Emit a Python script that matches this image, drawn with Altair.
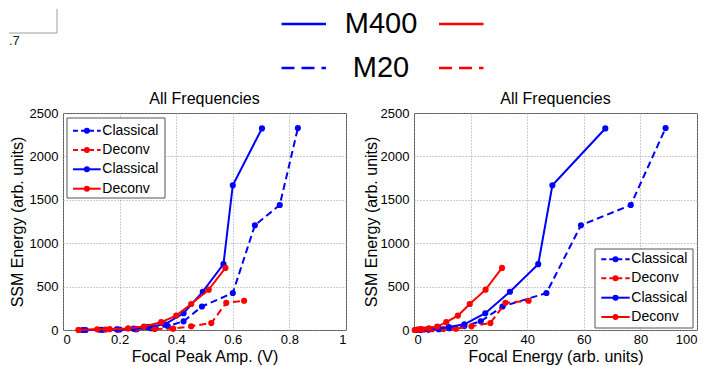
import altair as alt
import pandas as pd

# ---------------- data ----------------
# M20 / Classical (blue dashed)
m20_cls_amp = [0.08, 0.14, 0.20, 0.26, 0.31, 0.37, 0.426, 0.491, 0.600, 0.678, 0.766, 0.830]
m20_cls_energy = [0.8, 2.5, 5.2, 8.8, 12.5, 17.8, 23.6, 31.3, 46.8, 59.0, 76.6, 88.9]
m20_cls_ssm = [0, 2, 5, 10, 20, 45, 100, 271, 426, 1207, 1440, 2326]

# M20 / Deconv (red dashed)
m20_dec_amp = [0.055, 0.150, 0.192, 0.255, 0.324, 0.389, 0.453, 0.524, 0.577, 0.640]
m20_dec_energy = [0.3, 2.2, 3.6, 6.4, 10.3, 14.8, 20.3, 27.0, 32.3, 40.5]
m20_dec_ssm = [0, 5, 5, 10, 12, 15, 43, 81, 313, 337]

# M400 / Classical (blue solid)
m400_cls_amp = [0.07, 0.13, 0.19, 0.25, 0.30, 0.36, 0.426, 0.494, 0.567, 0.600, 0.703]
m400_cls_energy = [0.7, 2.3, 4.9, 8.6, 12.3, 17.8, 25.2, 33.9, 43.9, 48.9, 67.6]
m400_cls_ssm = [0, 3, 8, 15, 35, 65, 193, 441, 758, 1668, 2322]

# M400 / Deconv (red solid)
m400_dec_amp = [0.055, 0.121, 0.165, 0.230, 0.286, 0.347, 0.400, 0.453, 0.515, 0.574]
m400_dec_energy = [0.3, 1.4, 2.6, 5.2, 8.2, 11.4, 15.5, 19.7, 25.3, 31.1]
m400_dec_ssm = [0, 8, 10, 18, 40, 90, 166, 300, 465, 715]

legend_labels = ["Classical", "Deconv", "Classical", "Deconv"]
top_legend_labels = ["M400", "M20"]
panel_title = "All Frequencies"
amp_ticks = [0, 0.2, 0.4, 0.6, 0.8, 1]
energy_ticks = [0, 20, 40, 60, 80, 100]
ssm_ticks = [0, 500, 1000, 1500, 2000, 2500]

BLUE = "#0000ff"
RED = "#ff0000"
FONT = "Liberation Sans"
DASH = [7, 4]

series = [
    ("M20 Classical", m20_cls_amp, m20_cls_energy, m20_cls_ssm, BLUE, True),
    ("M20 Deconv", m20_dec_amp, m20_dec_energy, m20_dec_ssm, RED, True),
    ("M400 Classical", m400_cls_amp, m400_cls_energy, m400_cls_ssm, BLUE, False),
    ("M400 Deconv", m400_dec_amp, m400_dec_energy, m400_dec_ssm, RED, False),
]

W, H = 283, 217
dummy = pd.DataFrame({"d": [0]})


def enc_x(domain, ticks, title, fmt):
    return alt.X(
        "x:Q",
        scale=alt.Scale(domain=domain, nice=False, zero=False),
        axis=alt.Axis(
            values=ticks, format=fmt, title=title, labelPadding=3,
            titleY=31.5, titleBaseline="alphabetic",
        ),
    )


def enc_y(title_x):
    return alt.Y(
        "ssm:Q",
        scale=alt.Scale(domain=[0, 2500], nice=False),
        axis=alt.Axis(
            values=ssm_ticks, format="d", title="SSM Energy (arb. units)",
            labelPadding=5, titleX=title_x, titleAngle=270,
            titleBaseline="alphabetic", titleAlign="center",
        ),
    )


def legend_layers(bx0, bx1, by0, by1, row_y, lx0, lx1, tx):
    layers = [
        alt.Chart(dummy).mark_rect(fill="white", stroke="#555", strokeWidth=1).encode(
            x=alt.value(bx0), x2=alt.value(bx1), y=alt.value(by0), y2=alt.value(by1)
        )
    ]
    for i, (name, _a, _e, _s, col, dashed) in enumerate(series):
        y = row_y[i]
        rule_kw = dict(color=col, strokeWidth=2)
        if dashed:
            rule_kw["strokeDash"] = [5, 3]
        layers.append(
            alt.Chart(dummy).mark_rule(**rule_kw).encode(
                x=alt.value(lx0), x2=alt.value(lx1), y=alt.value(y)
            )
        )
        layers.append(
            alt.Chart(dummy).mark_circle(color=col, size=36, opacity=1).encode(
                x=alt.value((lx0 + lx1) / 2), y=alt.value(y)
            )
        )
        layers.append(
            alt.Chart(dummy).mark_text(
                align="left", baseline="middle", fontSize=14, font=FONT, color="black"
            ).encode(x=alt.value(tx), y=alt.value(y), text=alt.value(legend_labels[i]))
        )
    return layers


def panel(kind, domain, ticks, xtitle, fmt, title_x, legend_geom, extra=None):
    layers = []
    for name, amp, energy, ssm, col, dashed in series:
        xs = amp if kind == "amp" else energy
        df = pd.DataFrame({"x": xs, "ssm": ssm})
        base = alt.Chart(df).encode(x=enc_x(domain, ticks, xtitle, fmt), y=enc_y(title_x))
        line_kw = dict(color=col, strokeWidth=2)
        if dashed:
            line_kw["strokeDash"] = DASH
        layers.append(base.mark_line(**line_kw))
        layers.append(base.mark_circle(color=col, size=38, opacity=1))
    layers += legend_layers(*legend_geom)
    # panel title drawn as text so it sits just above the plot area
    layers.append(
        alt.Chart(dummy).mark_text(
            align="center", baseline="alphabetic", fontSize=16, font=FONT, color="black"
        ).encode(x=alt.value(W / 2), y=alt.value(-9.5), text=alt.value(panel_title))
    )
    if extra:
        layers += extra
    return alt.layer(*layers).properties(width=W, height=H)


# ---- figure-level legend (top) and stray axis fragment, relative to left panel ----
top = []
top_rows = [-89, -45]
for r, lab in enumerate(top_legend_labels):
    dashed = r == 1
    for col, (x0, x1) in ((BLUE, (218.5, 263)), (RED, (376, 420.5))):
        kw = dict(color=col, strokeWidth=2.7)
        if dashed:
            kw["strokeDash"] = [13, 7]
        top.append(
            alt.Chart(dummy).mark_rule(**kw).encode(
                x=alt.value(x0), x2=alt.value(x1), y=alt.value(top_rows[r])
            )
        )
    top.append(
        alt.Chart(dummy).mark_text(
            align="center", baseline="middle", fontSize=29, font=FONT, color="black"
        ).encode(x=alt.value(318), y=alt.value(top_rows[r]), text=alt.value(lab))
    )

# stray fragment of another axes in the top-left corner
top.append(alt.Chart(dummy).mark_rect(fill="white").encode(
    x=alt.value(-54), x2=alt.value(-6), y=alt.value(-104), y2=alt.value(-80)))
top.append(alt.Chart(dummy).mark_rule(color="#a0a0a0", strokeWidth=1).encode(
    x=alt.value(-6), y=alt.value(-104), y2=alt.value(-80)))
top.append(alt.Chart(dummy).mark_rule(color="#a0a0a0", strokeWidth=1).encode(
    x=alt.value(-54), x2=alt.value(-6), y=alt.value(-80)))
top.append(alt.Chart(dummy).mark_text(
    align="left", baseline="middle", fontSize=13, font=FONT, color="#222"
).encode(x=alt.value(-54), y=alt.value(-72), text=alt.value(".7")))

left = panel(
    "amp", [0, 1], amp_ticks, "Focal Peak Amp. (V)", ".1~f", -41,
    (4, 102, 5, 85, [17.7, 37, 56.3, 75.7], 10, 37.7, 39.3),
    extra=top,
)
right = panel(
    "energy", [0, 100], energy_ticks, "Focal Energy (arb. units)", "d", -38,
    (181, 279, 136, 215, [146.3, 165.3, 184.7, 204], 187.3, 215.7, 217.3),
)

chart = (
    alt.hconcat(left, right, spacing=68, bounds="flush")
    .properties(padding=0, background="white")
    .configure_view(stroke="#555", strokeWidth=1)
    .configure_axis(
        labelFont=FONT, labelFontSize=13, labelColor="black",
        titleFont=FONT, titleFontSize=16, titleFontWeight="normal", titleColor="black",
        domain=False, ticks=False, tickSize=0,
        gridColor="#9a9a9a", gridDash=[1, 2], gridWidth=1,
    )
)

chart.save("out.html", embed_options={"renderer": "svg", "actions": False})
